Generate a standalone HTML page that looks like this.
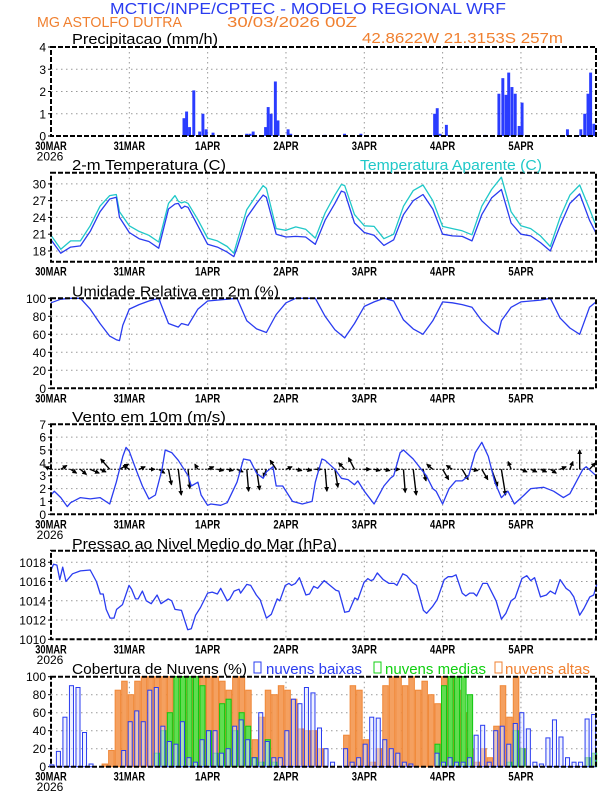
<!DOCTYPE html>
<html><head><meta charset="utf-8"><style>
html,body{margin:0;padding:0;background:#fff;}
svg{display:block;font-family:"Liberation Sans",sans-serif;}
</style></head>
<body>
<svg id="chart" width="612" height="792" viewBox="0 0 612 792" xmlns="http://www.w3.org/2000/svg">
<defs>
<marker id="ah" viewBox="0 0 6 6" refX="5" refY="3" markerWidth="3.5" markerHeight="3.5" orient="auto"><path d="M0,0 L6,3 L0,6 z" fill="#000"/></marker>
</defs>
<text x="110" y="14" font-size="16" fill="#2a3cf0" textLength="396" lengthAdjust="spacingAndGlyphs">MCTIC/INPE/CPTEC - MODELO REGIONAL WRF</text>
<text x="37" y="27" font-size="15" fill="#f08030" textLength="145" lengthAdjust="spacingAndGlyphs">MG ASTOLFO DUTRA</text>
<text x="227" y="27" font-size="15" fill="#f08030" textLength="130" lengthAdjust="spacingAndGlyphs">30/03/2026 00Z</text>
<text x="362" y="43" font-size="15" fill="#f08030" textLength="201" lengthAdjust="spacingAndGlyphs">42.8622W 21.3153S 257m</text>
<g id="plots"></g>
</svg>
<script>
// ---------- data ----------
const dayLabels = ["30MAR","31MAR","1APR","2APR","3APR","4APR","5APR"];
const precipHours = [40.8,41.6,42.5,43.8,45.6,46.6,47.6,49.7,22,60,61,62,65.8,66.6,67.5,68.8,69.6,72.7,73.5,84,90,95,117.6,118.4,119.3,121.2,133,137.3,138.5,139.5,140.3,141.3,142.3,143.5,144.4,158.3,162.4,163.6,164.6,165.4,166.4];
const precipValues = [0.8,1.1,0.4,2.05,0.2,1.0,0.3,0.15,0.05,0.1,0.1,0.2,0.4,1.3,1.0,2.45,0.7,0.3,0.1,0.05,0.1,0.1,1.0,1.25,0.1,0.5,0.05,1.9,2.6,1.85,2.85,2.2,1.9,0.45,1.5,0.3,0.3,1.0,1.9,2.85,0.55];
const tHours = [0,3,6,9,12,15,18,20,21,24,27,30,33,36,38,39,40,41,42,45,48,51,54,56,57,60,63,65,66,69,72,75,78,81,84,87,89,90,93,96,99,102,105,108,111,114,117,120,123,126,129,132,135,138,141,144,147,150,153,156,159,162,165,167];
const tempValues = [20,17.6,18.7,18.9,21.5,25,27.3,27.6,24,21.3,20.2,19.7,18.5,25.5,26.4,26.5,25.6,26,25.8,22.5,19.2,18.7,17.8,17.0,18.5,24,26.5,28,27.6,21,20.5,20.6,20.5,19.2,23.5,26.5,28.7,28.5,23,21.3,20.8,19,20,24.5,27,28.1,25.5,21,20.7,20.6,19.8,24.5,27.5,29,23,21,20.7,19.5,18,22.5,26.5,28.2,23.5,21.2];
const apparentValues = [20.8,18.3,19.8,19.8,22.5,26,27.9,28.1,25,22.5,21.5,20.8,19.6,26.5,27.9,26.9,26.6,26.8,26.5,23.6,20.3,19.8,18.8,17.6,19.6,25.4,28,29.7,29.2,22,21.7,22.3,21.9,20.3,24.8,28,29.9,29.7,24.5,22.5,22.4,20.2,21,26,28.8,29.8,27,22.4,22,21.6,20.9,26,29,31.2,25,22.5,22,20.7,18.8,24,28,29.8,25.5,22.5];
const rhHours = [0,3,6,9,12,15,18,20,21,22,24,27,30,33,36,39,40,42,45,48,51,54,57,60,63,66,69,72,75,78,81,84,87,90,93,96,99,102,105,108,111,114,117,120,123,126,129,132,135,137,138,141,144,147,150,153,156,159,162,165,167];
const rhValues = [95,99,100,100,88,72,58,54,53,70,88,93,97,100,72,68,72,70,88,97,98,99,100,75,66,62,82,95,100,100,100,80,65,56,72,91,96,100,97,76,66,60,75,96,95,93,90,75,65,60,75,90,96,97,98,100,78,67,60,90,96];
const windHours = [0,1,3,5,6,9,12,15,18,20,22,23,24,26,28,30,32,34,35,37,39,42,43,45,46,48,49,52,54,57,59,61,63,65,66,68,69,71,74,77,80,81,83,84,87,89,91,93,94,96,99,102,104,105,107,108,111,115,117,118,120,122,124,126,128,130,132,134,136,138,140,142,145,147,151,154,157,159,163,164,167];
const windSpeed = [1.5,1.8,1.3,0.6,0.9,1.3,1.2,1.3,0.8,2.5,4.5,5.2,4.9,3.5,2.2,1.2,1.5,3.5,5.0,4.8,4.2,3.0,2.2,2.5,1.5,0.7,0.8,0.7,0.9,2.5,4.3,4.2,3.2,2.8,3.3,3.7,2.2,2.2,1.0,0.8,1.0,2.5,4.3,4.2,3.5,2.8,2.7,2.3,2.6,1.8,0.8,2.2,2.8,3.0,4.8,5.0,4.3,3.0,2.0,1.8,0.8,2.0,2.6,2.6,3.0,4.8,5.6,4.5,2.5,1.3,1.8,0.8,1.5,2.0,2.1,1.8,1.3,1.6,3.5,3.7,3.0];
const vecHours = [0,3,6,9,12,15,18,21,24,27,30,33,36,39,42,45,48,51,54,57,60,63,66,69,72,75,78,81,84,87,90,93,96,99,102,105,108,111,114,117,120,123,126,129,132,135,138,141,144,147,150,153,156,159,162,165];
const vecU = [-1,1,1,1,1.5,1,-1.5,1.5,-1,1,1,1,0.5,0.5,0.3,-0.5,1,1,1,1,0.3,0.5,-0.5,-1,1,1,1,1,0.3,0.5,-1,-1,1,1,1,1,0.3,0.5,0.5,-1,1,-1,1,1,1,1,0.7,-0.5,1,1,1,1,1,0.5,0,1];
const vecV = [0.2,0.3,-0.3,-0.4,-0.3,-0.2,0.8,0.4,0.3,0.2,0,-0.3,-1.2,-2,-1.5,0.4,0.2,-0.1,-0.1,-0.2,-1.7,-1.6,-0.6,0.7,0.2,-0.1,-0.1,0,-1.7,-1.4,0.5,0.9,0,-0.1,-0.1,0,-1.8,-2,-0.9,0.4,-0.8,0.3,-0.8,-0.1,-0.8,-1.3,-2,0.6,-0.2,-0.2,-0.2,-0.3,0.2,0.6,1.5,0.5];
const presHours = [0,0.8,1.8,2.7,3.6,4.6,6.6,9,12,13.9,15.1,16,16.9,18.1,19.3,20.1,21.9,23.9,24.7,25.9,26.7,28,29.2,30.7,32.5,33.7,35.9,37,38,40,41.9,43,44.3,45.8,48,49.4,51,52,54,54.8,56.1,57.6,58.1,60,61.2,62.9,64.1,66,67.5,69.3,70.1,71.8,72.9,73.7,74.9,76.1,78.1,79.2,80.5,81.7,83.7,85.5,87.3,88.2,90,91.3,93.1,94,95.9,97.1,98,98.8,100,101.8,103.6,105.1,106,107.8,109,110.8,112,114.1,115.1,116.9,118.3,120.5,121.7,122.9,124.1,126,127.1,128.3,129.5,130.4,132.3,133.7,136.4,138,139.4,141,142.2,144.3,145.8,147,148.2,150,151.8,153,154.5,156,157.8,159,160.2,162,163.3,165.1,166.3,167.2];
const presValues = [1017.2,1017.8,1017.7,1016.2,1017.5,1016.0,1016.8,1017.1,1017.2,1016.0,1014.7,1014.7,1013.1,1012.2,1012.2,1013.1,1013.6,1015.6,1015.2,1014.2,1014.2,1015.0,1014.0,1013.7,1014.6,1013.7,1014.2,1014.0,1013.1,1013.0,1011.0,1011.1,1012.5,1013.3,1014.8,1014.9,1014.7,1015.3,1014.0,1014.2,1015.0,1015.2,1014.8,1015.7,1015.6,1014.6,1014.1,1012.2,1012.6,1014.2,1014.0,1015.6,1015.8,1015.6,1015.8,1016.4,1014.6,1014.7,1015.5,1015.3,1016.1,1015.6,1015.1,1015.0,1012.8,1012.9,1014.3,1014.1,1015.9,1016.3,1016.1,1016.2,1016.9,1016.2,1015.8,1015.8,1015.6,1016.8,1016.6,1015.9,1015.6,1013.0,1012.7,1013.4,1014.1,1016.2,1016.5,1016.5,1016.7,1014.8,1014.5,1014.8,1014.8,1014.5,1015.8,1015.8,1014.0,1012.1,1012.7,1014.0,1014.3,1016.3,1016.6,1016.1,1016.4,1014.4,1014.6,1015.0,1014.7,1016.2,1015.3,1015.0,1014.4,1012.5,1013.2,1014.4,1014.6,1015.7];
// cloud cover every 2 hours starting at hour 0
const cloudLow = [2,17,55,90,88,38,3,0,0,0,0,18,50,62,50,85,88,45,28,25,50,10,5,30,40,40,15,20,45,52,30,10,60,28,10,10,40,75,70,88,82,43,20,5,0,20,5,10,25,55,54,30,20,15,5,3,0,0,0,15,5,10,5,5,10,35,46,5,40,45,25,48,60,42,5,3,32,52,33,10,5,5,53,58];
const cloudMid = [0,0,0,0,0,0,0,0,0,0,0,0,0,0,0,0,15,40,60,100,100,100,100,90,40,15,70,75,40,60,45,10,5,30,5,0,0,0,0,0,0,0,0,0,0,0,0,0,0,0,0,0,0,0,0,0,0,0,0,25,90,100,100,100,80,0,0,0,0,0,5,40,20,0,0,0,0,0,0,0,0,0,10,15];
const cloudHigh = [0,0,0,0,0,0,0,0,3,18,85,95,80,95,100,100,100,100,100,100,100,100,100,100,100,100,95,85,100,100,85,30,55,85,80,90,85,75,42,40,40,20,0,0,0,35,90,85,30,5,20,90,100,100,90,100,85,95,80,70,100,100,85,60,20,5,20,10,45,90,55,100,20,0,0,0,0,0,0,0,0,0,0,0];

// ---------- layout ----------
const L = 51, R = 596, HMAX = 167;
const NS = "http://www.w3.org/2000/svg";
const root = document.getElementById('plots');
function X(h){ return L + h * (R - L) / HMAX; }
function mk(tag, attrs, parent){
  const e = document.createElementNS(NS, tag);
  for (const k in attrs) e.setAttribute(k, attrs[k]);
  (parent || root).appendChild(e);
  return e;
}
function txt(s, attrs, parent){ const e = mk('text', attrs, parent); e.textContent = s; return e; }

function panel(name, top, bot, ymin, ymax, ticks, tickFmt, showYear){
  const g = mk('g', {});
  
  
  const Y = v => bot - (v - ymin) * (bot - top) / (ymax - ymin);
  ticks.forEach(t => {
    if (t > ymin && t < ymax) {
      const gl = mk('line', {x1:L, x2:R, y1:Y(t), y2:Y(t), stroke:'#999', 'stroke-width':1, 'stroke-dasharray':'1.5,3.5'}, g);
      
      
    }
    const tl = txt(tickFmt(t), {x:46, y:Y(t)+4.5, 'font-size':12, 'text-anchor':'end', fill:'#000'}, g);
    
    
    mk('line', {x1:L-3, x2:L, y1:Y(t), y2:Y(t), stroke:'#000', 'stroke-width':1}, g);
  });
  dayLabels.forEach((d, i) => {
    const x = X(i*24);
    if (i > 0) {
      const vl = mk('line', {x1:x, x2:x, y1:top, y2:bot, stroke:'#999', 'stroke-width':1, 'stroke-dasharray':'1.5,3.5'}, g);
      
      
    }
    const dl = txt(d, {x:x, y:bot+14, 'font-size':12, 'text-anchor':'middle', fill:'#000', 'font-weight':'bold', textLength: d.length*6.3, lengthAdjust:'spacingAndGlyphs'}, g);
    
    
  });
  if (showYear) {
    const yl = txt('2026', {x:50, y:bot+24.5, 'font-size':12, 'text-anchor':'middle', fill:'#000'}, g);
    
    
  }
  const plot = mk('g', {}, g);
  
  
  const frame = () => {
    const fr = mk('rect', {x:L, y:top, width:R-L, height:bot-top, fill:'none', stroke:'#000', 'stroke-width':2, 'stroke-dasharray':'5,2'}, g);
    
    
  };
  return {g, plot, Y, frame};
}
function title(s, x, y, w, color, nm){
  const t = txt(s, {x:x, y:y, 'font-size':15, fill:color, textLength:w, lengthAdjust:'spacingAndGlyphs'});
  
  
}
function line(p, hs, vs, color, nm){
  const d = hs.map((h,i) => (i?'L':'M') + X(h).toFixed(1) + ',' + p.Y(vs[i]).toFixed(1)).join(' ');
  const e = mk('path', {d:d, fill:'none', stroke:color, 'stroke-width':1.3, 'stroke-linejoin':'round'}, p.plot);
  
  
}

// Precipitation
const p1 = panel('precipitation', 47, 136, 0, 4, [0,1,2,3,4], t=>String(t), true);
title('Precipitacao (mm/h)', 72, 44, 146, '#000', 'precipitation-title');
const bw = (R-L)/HMAX;
precipHours.forEach((h,i) => {
  const v = precipValues[i];
  const b = mk('rect', {x:X(h)-bw/2, y:p1.Y(v), width:bw*0.9, height:p1.Y(0)-p1.Y(v), fill:'#2a3cff'}, p1.plot);
  
  
});
p1.frame();

// Temperature
const p2 = panel('temperature', 172.7, 261.7, 16.08, 32, [18,21,24,27,30], t=>String(t), false);
title('2-m Temperatura (C)', 72, 170, 154, '#000', 'temperature-title');
title('Temperatura Aparente (C)', 360, 170, 182, '#20c8c8', 'apparent-temperature-legend');
line(p2, tHours, apparentValues, '#20c8c8', 'apparent-temperature-line');
line(p2, tHours, tempValues, '#2a3cf0', 'temperature-line');
p2.frame();

// Relative humidity
const p3 = panel('humidity', 298.3, 388.3, 0, 100, [0,20,40,60,80,100], t=>String(t), false);
title('Umidade Relativa em 2m (%)', 72, 296.5, 207, '#000', 'humidity-title');
line(p3, rhHours, rhValues, '#2a3cf0', 'humidity-line');
p3.frame();

// Wind
const p4 = panel('wind', 424.3, 514.3, 0, 7, [0,1,2,3,4,5,6,7], t=>String(t), true);
title('Vento em 10m (m/s)', 72, 422, 154, '#000', 'wind-title');
const base = mk('line', {x1:X(vecHours[0]), x2:X(vecHours[vecHours.length-1]), y1:p4.Y(3.5), y2:p4.Y(3.5), stroke:'#000', 'stroke-width':1, 'stroke-dasharray':'2,1.5'}, p4.plot);


vecHours.forEach((h,i) => {
  const x0 = X(h), y0 = p4.Y(3.5);
  const a = mk('line', {x1:x0, y1:y0, x2:x0 + vecU[i]*6, y2:p4.Y(3.5 + vecV[i]), stroke:'#000', 'stroke-width':1.4, 'marker-end':'url(#ah)'}, p4.plot);
  
  
});
line(p4, windHours, windSpeed, '#2a3cf0', 'wind-speed-line');
p4.frame();

// Pressure
const p5 = panel('pressure', 550.7, 639.3, 1010, 1019.2, [1010,1012,1014,1016,1018], t=>String(t), true);
title('Pressao ao Nivel Medio do Mar (hPa)', 72, 549, 265, '#000', 'pressure-title');
line(p5, presHours, presValues, '#2a3cf0', 'pressure-line');
p5.frame();

// Clouds
const p6 = panel('cloud', 676.7, 766.7, 0, 100, [0,20,40,60,80,100], t=>String(t), true);
title('Cobertura de Nuvens (%)', 72, 674, 175, '#000', 'cloud-title');
function legendBox(x, color, nm){
  const r = mk('rect', {x:x, y:662, width:7, height:11, fill:'none', stroke:color, 'stroke-width':1});
  
  
}
legendBox(254, '#2a3cf0', 'legend-low-clouds-swatch');
title('nuvens baixas', 266, 674, 96, '#2a3cf0', 'legend-low-clouds');
legendBox(374, '#10d010', 'legend-mid-clouds-swatch');
title('nuvens medias', 385, 674, 101, '#10d010', 'legend-mid-clouds');
legendBox(495, '#f08030', 'legend-high-clouds-swatch');
title('nuvens altas', 505, 674, 85, '#f08030', 'legend-high-clouds');
function cloudBars(vals, fill, stroke, nm, w){
  vals.forEach((v,i) => {
    if (v <= 0) return;
    const h = i*2;
    const x = X(h) - bw*0.5;
    const b = mk('rect', {x:x+0.5, y:p6.Y(v), width:w, height:p6.Y(0)-p6.Y(v), fill:fill, stroke:stroke, 'stroke-width':1}, p6.plot);
    
    
  });
}
cloudBars(cloudHigh, '#f4a060', '#f08838', 'cloud-high-bar', bw*2-1);
cloudBars(cloudMid, '#60dd50', '#10c810', 'cloud-mid-bar', bw*2-1.5);
cloudBars(cloudLow, 'rgba(225,232,255,0.55)', '#2a3cf0', 'cloud-low-bar', bw*2-2.5);
p6.frame();
</script>
</body></html>
